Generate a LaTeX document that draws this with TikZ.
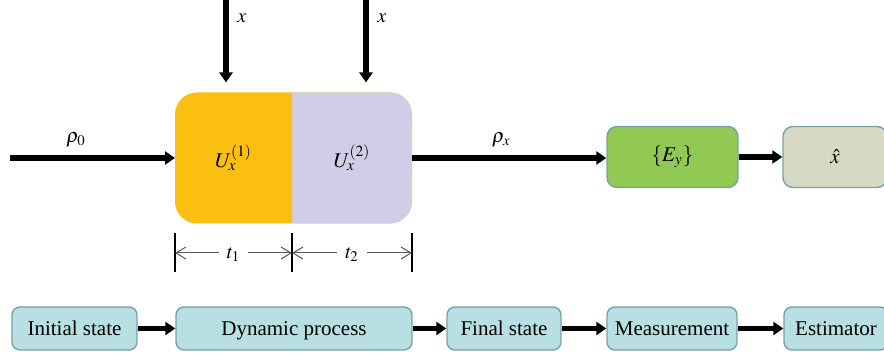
\documentclass[tikz,border=0pt]{standalone}
\usepackage{mathptmx}
\usepackage{fontspec}
\setmainfont{Liberation Serif}
\usetikzlibrary{arrows.meta,backgrounds}
\definecolor{uorange}{RGB}{251,191,18}
\definecolor{upurple}{RGB}{208,206,230}
\definecolor{mgreen}{RGB}{146,201,84}
\definecolor{ebeige}{RGB}{214,217,196}
\definecolor{stagefill}{RGB}{184,223,226}
\definecolor{boxline}{RGB}{123,160,168}
\begin{document}
\begin{tikzpicture}[x=0.5pt,y=-0.5pt]

    \tikzset{flow/.style={line width=2.6pt, -{Triangle[length=5pt,width=6.5pt]}},
             tick/.style={line width=0.9pt},
             dim/.style={line width=0.5pt, draw=black!65, {Straight Barb[length=5pt,width=6pt]}-{Straight Barb[length=5pt,width=6pt]}},
             ubox/.style={minimum height=65.5pt, inner sep=0pt, outer sep=0pt, font=\fontsize{10.5}{12}\selectfont},
             outbox/.style={draw=boxline, line width=0.7pt, rounded corners=5pt, minimum height=30.5pt, inner sep=0pt, font=\fontsize{10.5}{12}\selectfont},
             stage/.style={draw=boxline, line width=0.7pt, fill=stagefill, rounded corners=4pt, minimum height=21.5pt, inner sep=0pt, text depth=0pt, font=\fontsize{10.5}{12}\selectfont}}

    \useasboundingbox (0,0) rectangle (884,356);
    \clip (0,0) rectangle (884,356);

    % dynamic process
    \node[ubox, minimum width=58.5pt] (U1) at (233.5,158) {$U_x^{(1)}$};
    \node[ubox, minimum width=60pt] (U2) at (352,158) {$U_x^{(2)}$};
    \begin{scope}[on background layer]
        \fill[uorange, rounded corners=11pt] (U1.north west) rectangle (U2.south east);
        \begin{scope}
            \clip (U2.north west) rectangle (U2.south east);
            \fill[upurple, rounded corners=11pt] (U1.north west) rectangle (U2.south east);
        \end{scope}
    \end{scope}

    \node[outbox, fill=mgreen, minimum width=65.5pt] (Ey) at (672.5,157) {$\{E_y\}$};
    \node[outbox, fill=ebeige, minimum width=52pt] (xhat) at (835,157) {$\hat{x}$};

    \coordinate (rhoin) at (10,158);
    \coordinate (xin1) at (226,0);
    \coordinate (xin2) at (366,0);

    \draw[flow] (rhoin) -- node[pos=0.4, above=1pt] {$\rho_0$} (rhoin -| U1.west);
    \draw[flow] (U2.east) -- node[pos=0.46, above=1pt] {$\rho_x$} (U2.east -| Ey.west);
    \draw[flow] (Ey) -- (xhat);

    \foreach \c in {xin1, xin2} {
        \draw[flow, shorten >=5pt] (\c) -- node[pos=0.2, right=1pt] {$x$} (\c |- U1.north);
    }

    % durations
    \foreach \a in {U1.south west, U1.south east, U2.south east} {
        \draw[tick] (\a) ++(0,10) -- ++(0,39);
    }
    \draw[dim] ([yshift=-14.75pt]U1.south west) -- node[fill=white, inner sep=4pt, yshift=-1pt] {$t_1$} ([yshift=-14.75pt]U1.south east);
    \draw[dim] ([yshift=-14.75pt]U2.south west) -- node[fill=white, inner sep=4pt, yshift=-1pt] {$t_2$} ([yshift=-14.75pt]U2.south east);

    % stages
    \node[stage, minimum width=62.5pt] (init) at (74.5,328.5) {Initial state};
    \node[stage, minimum width=118pt] (dyn) at (294,328.5) {Dynamic process};
    \node[stage, minimum width=57pt] (final) at (504,328.5) {Final state};
    \node[stage, minimum width=65pt] (meas) at (672,328.5) {Measurement};
    \node[stage, minimum width=52pt] (est) at (836,328.5) {Estimator};

    \foreach \a/\b in {init/dyn, dyn/final, final/meas, meas/est} {
        \draw[flow] (\a) -- (\b);
    }

\end{tikzpicture}
\end{document}
